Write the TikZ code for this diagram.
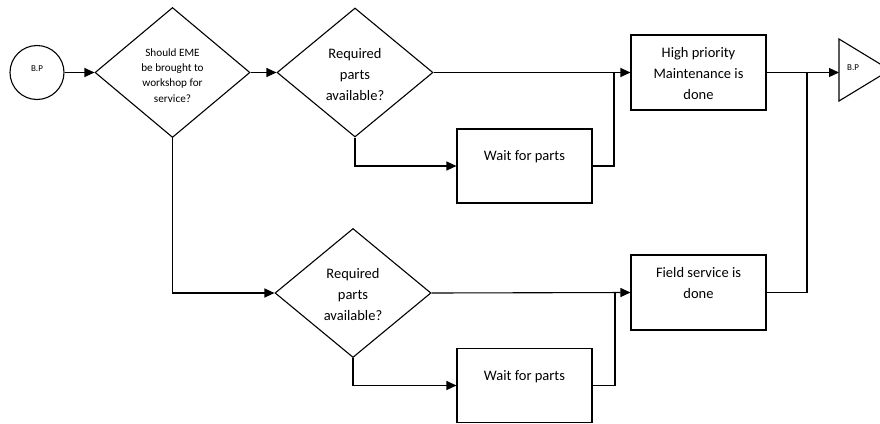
\documentclass[tikz,border=0pt]{standalone}
\usepackage{fontspec}
\setmainfont{Carlito}
\usetikzlibrary{shapes.geometric,arrows.meta}
\begin{document}
\begin{tikzpicture}[x=1pt,y=-1pt,
  line width=1.1pt,
  arr/.style={-{Triangle[length=10pt,width=9pt]}},
  dia/.style={diamond,draw,inner sep=0pt,minimum width=156pt,minimum height=129pt},
  boxn/.style={rectangle,draw,inner sep=0pt,minimum width=135pt,minimum height=75pt},
  bigtxt/.style={font=\fontsize{14.5}{21}\selectfont,align=center,inner sep=0pt},
  smalltxt/.style={font=\fontsize{11.2}{15.3}\selectfont,align=center,inner sep=0pt}]
\useasboundingbox (0,0) rectangle (880,423);
% shapes
\node (bp) [circle,draw,inner sep=0pt,minimum size=54pt] at (37,72.5) {};
\node[font=\fontsize{9}{10}\selectfont,inner sep=0pt] (bpt) at (37,69) {B.P};
\node (d1) [dia,minimum width=155pt,minimum height=130pt] at (172.5,72.5) {};
\node[smalltxt] (d1t) at (172.5,75.5) {Should EME\\be brought to\\workshop for\\service?};
\node (d2) [dia] at (355,72.5) {};
\node[bigtxt] (d2t) at (355,75) {Required\\parts\\available?};
\node (d3) [dia] at (353,293) {};
\node[bigtxt] (d3t) at (353,295) {Required\\parts\\available?};
\node (w1) [boxn,minimum height=74pt] at (524.5,166) {};
\node[bigtxt] (w1t) at (524.5,157) {Wait for parts};
\node (w2) [boxn,minimum height=74pt] at (524.5,385.5) {};
\node[bigtxt] (w2t) at (524.5,377) {Wait for parts};
\node (hp) [boxn] at (698.5,72.5) {};
\node[bigtxt] (hpt) at (698.5,73.5) {High priority\\Maintenance is\\done};
\node (fs) [boxn] at (698.5,292.5) {};
\node[bigtxt] (fst) at (698.5,283) {Field service is\\done};
% end triangle
\coordinate (tri) at (839,72.5);
\draw (839,39) -- (890,70) -- (839,101) -- cycle;
\node[font=\fontsize{9}{10}\selectfont,inner sep=0pt] (trit) at (853,68) {B.P};
% junction coordinates
\coordinate (j1) at (614,72.5);
\coordinate (j2) at (807,72.5);
\coordinate (j3) at (615,293);
% connectors
\draw[arr] (bp.east) -- (d1.west);
\draw[arr] (d1.east) -- (d2.west);
\draw[arr] (d2.east) -- (hp.west);
\draw[arr] (d2.south) |- (w1.west);
\draw (w1.east) -| (j1);
\draw[arr] (hp.east) -- (tri);
\draw (fs.east) -| (j2);
\draw[arr] (d1.south) |- (d3.west);
\draw[arr] (d3.east) -- (fs.west);
\draw[arr] (d3.south) |- (w2.west);
\draw (w2.east) -| (j3);
\end{tikzpicture}
\end{document}
